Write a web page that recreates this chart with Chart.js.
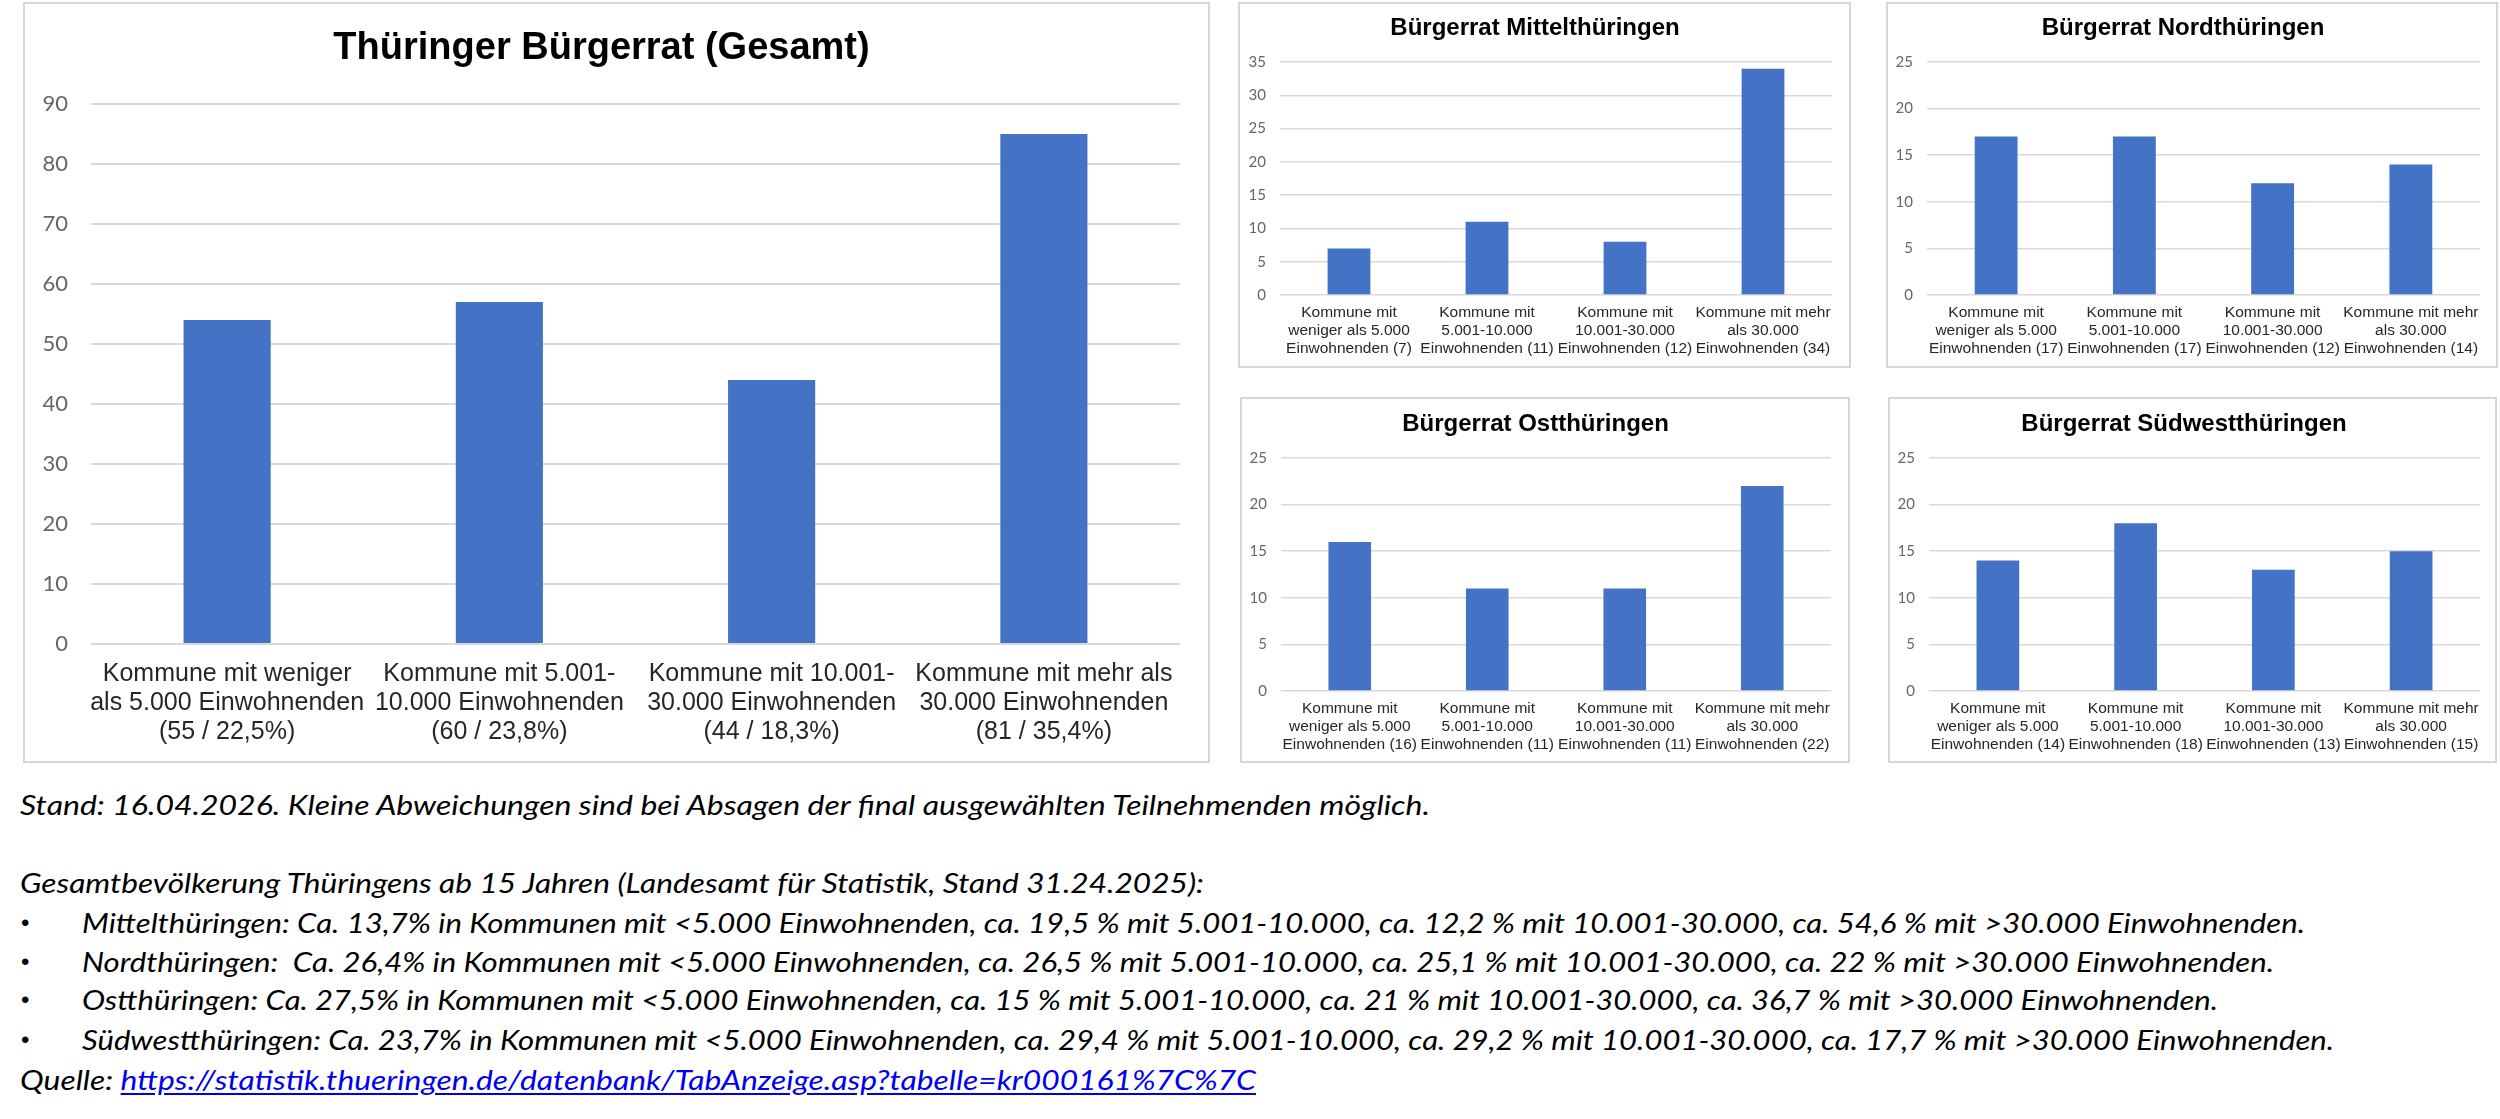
<!DOCTYPE html>
<html lang="de">
<head>
<meta charset="utf-8">
<script src="https://cdn.jsdelivr.net/npm/chart.js@4/dist/chart.umd.min.js"></script>
<style>
  html, body { margin: 0; padding: 0; background: #fff; }
  body { width: 2500px; height: 1119px; position: relative; overflow: hidden; }
  .box { position: absolute; box-sizing: border-box; border: 2px solid #d6d6d6; pointer-events: none; }
  .cv { position: absolute; }
  .line { position: absolute; white-space: pre; font-family: Lato, "Open Sans", sans-serif; font-style: italic;
          font-size: 27px; line-height: 36px; color: #000; transform-origin: 0 50%; }
  .bullet { position: absolute; font-family: "Liberation Sans", Arial, sans-serif; font-size: 24px; line-height: 36px; color: #000; }
  .link { color: #0000ee; text-decoration: underline; text-underline-offset: 3px; }
</style>
</head>
<body>

<canvas id="cGesamt" class="cv"></canvas>
<canvas id="cMittel" class="cv"></canvas>
<canvas id="cNord" class="cv"></canvas>
<canvas id="cOst" class="cv"></canvas>
<canvas id="cSued" class="cv"></canvas>

<div id="txt"></div>

<script>
// ---------------- DATA ----------------
const gesamtTitle = "Thüringer Bürgerrat (Gesamt)";
const gesamtLabels = [
  ["Kommune mit weniger", "als 5.000 Einwohnenden", "(55 / 22,5%)"],
  ["Kommune mit 5.001-", "10.000 Einwohnenden", "(60 / 23,8%)"],
  ["Kommune mit 10.001-", "30.000 Einwohnenden", "(44 / 18,3%)"],
  ["Kommune mit mehr als", "30.000 Einwohnenden", "(81 / 35,4%)"]
];
const gesamtValues = [54, 57, 44, 85];
const gesamtTicks = { max: 90, step: 10 };

const regionLabelBase = [
  ["Kommune mit", "weniger als 5.000", "Einwohnenden"],
  ["Kommune mit", "5.001-10.000", "Einwohnenden"],
  ["Kommune mit", "10.001-30.000", "Einwohnenden"],
  ["Kommune mit mehr", "als 30.000", "Einwohnenden"]
];

const mittelTitle = "Bürgerrat Mittelthüringen";
const mittelCounts = [7, 11, 12, 34];
const mittelValues = [7, 11, 8, 34];
const mittelTicks = { max: 35, step: 5 };

const nordTitle = "Bürgerrat Nordthüringen";
const nordCounts = [17, 17, 12, 14];
const nordValues = [17, 17, 12, 14];
const nordTicks = { max: 25, step: 5 };

const ostTitle = "Bürgerrat Ostthüringen";
const ostCounts = [16, 11, 11, 22];
const ostValues = [16, 11, 11, 22];
const ostTicks = { max: 25, step: 5 };

const suedTitle = "Bürgerrat Südwestthüringen";
const suedCounts = [14, 18, 13, 15];
const suedValues = [14, 18, 13, 15];
const suedTicks = { max: 25, step: 5 };

const noteStand = "Stand: 16.04.2026. Kleine Abweichungen sind bei Absagen der final ausgewählten Teilnehmenden möglich.";
const noteGesamt = "Gesamtbevölkerung Thüringens ab 15 Jahren (Landesamt für Statistik, Stand 31.24.2025):";
const noteBullets = [
  "Mittelthüringen: Ca. 13,7% in Kommunen mit <5.000 Einwohnenden, ca. 19,5 % mit 5.001-10.000, ca. 12,2 % mit 10.001-30.000, ca. 54,6 % mit >30.000 Einwohnenden.",
  "Nordthüringen:  Ca. 26,4% in Kommunen mit <5.000 Einwohnenden, ca. 26,5 % mit 5.001-10.000, ca. 25,1 % mit 10.001-30.000, ca. 22 % mit >30.000 Einwohnenden.",
  "Ostthüringen: Ca. 27,5% in Kommunen mit <5.000 Einwohnenden, ca. 15 % mit 5.001-10.000, ca. 21 % mit 10.001-30.000, ca. 36,7 % mit >30.000 Einwohnenden.",
  "Südwestthüringen: Ca. 23,7% in Kommunen mit <5.000 Einwohnenden, ca. 29,4 % mit 5.001-10.000, ca. 29,2 % mit 10.001-30.000, ca. 17,7 % mit >30.000 Einwohnenden."
];
const noteSourcePrefix = "Quelle: ";
const noteSourceUrl = "https://statistik.thueringen.de/datenbank/TabAnzeige.asp?tabelle=kr000161%7C%7C";

// ---------------- LAYOUT / DRAWING ----------------
function regionLabels(counts) {
  return regionLabelBase.map((l, i) => [l[0], l[1], l[2] + " (" + counts[i] + ")"]);
}

const BAR = "#4472C4";
const GRID = "#d9d9d9";

function makeBox(b) {
  const d = document.createElement("div");
  d.className = "box";
  d.style.left = b.x + "px"; d.style.top = b.y + "px";
  d.style.width = b.w + "px"; d.style.height = b.h + "px";
  document.body.appendChild(d);
}

function makeChart(id, lay, title, labels, values, ticks) {
  const cv = document.getElementById(id);
  cv.width = lay.w; cv.height = lay.h;
  cv.style.left = lay.x + "px"; cv.style.top = lay.y + "px";
  cv.style.width = lay.w + "px"; cv.style.height = lay.h + "px";
  makeBox(lay);
  const titleLH = lay.titleSize * 1.2;
  const tTop = lay.titleCenter - titleLH / 2;
  const tBottom = lay.plotTop - tTop - titleLH;
  new Chart(cv, {
    type: "bar",
    data: {
      labels: labels,
      datasets: [{
        data: values,
        backgroundColor: BAR,
        borderWidth: 0,
        barPercentage: lay.barPct,
        categoryPercentage: 1.0
      }]
    },
    options: {
      responsive: false,
      maintainAspectRatio: false,
      devicePixelRatio: 1,
      animation: false,
      layout: { padding: { left: 0, right: lay.padRight, top: 0, bottom: 0 } },
      plugins: {
        legend: { display: false },
        tooltip: { enabled: false },
        title: {
          display: true,
          text: title,
          color: "#000",
          font: { family: "'Liberation Sans', Arial, sans-serif", size: lay.titleSize, weight: "bold", lineHeight: 1.2 },
          padding: { top: tTop, bottom: tBottom }
        }
      },
      scales: {
        x: {
          grid: { display: false, drawTicks: false },
          border: { display: false },
          ticks: {
            color: "#262626",
            padding: lay.xPad,
            maxRotation: 0, minRotation: 0, autoSkip: false,
            font: { family: "'Liberation Sans', Arial, sans-serif", size: lay.xSize, lineHeight: lay.xLH }
          },
          afterFit: s => { s.height = lay.h - lay.plotBottom; }
        },
        y: {
          min: 0, max: ticks.max,
          grid: { color: GRID, lineWidth: lay.gridW, drawTicks: false },
          border: { display: false },
          ticks: {
            stepSize: ticks.step,
            color: "#666666",
            padding: lay.yPad,
            font: { family: "Lato, 'Open Sans', sans-serif", size: lay.ySize }
          },
          afterFit: s => { s.width = lay.plotLeft; }
        }
      }
    }
  });
}

const small = { titleSize: 24, xSize: 15.5, xLH: 1.16, xPad: 9, ySize: 15, yPad: 14, gridW: 1.5, barPct: 0.31 };

function build() {
  makeChart("cGesamt", { x: 23, y: 2, w: 1187, h: 761, plotLeft: 68, padRight: 30, plotTop: 102, plotBottom: 642,
    titleSize: 38, titleCenter: 47, xSize: 25, xLH: 1.16, xPad: 16, ySize: 22, yPad: 23, gridW: 2, barPct: 0.32 },
    gesamtTitle, gesamtLabels, gesamtValues, gesamtTicks);

  makeChart("cMittel", Object.assign({}, small, { x: 1238, y: 2, w: 613, h: 366, plotLeft: 42, padRight: 19,
    plotTop: 60, plotBottom: 293, titleCenter: 26 }), mittelTitle, regionLabels(mittelCounts), mittelValues, mittelTicks);

  makeChart("cNord", Object.assign({}, small, { x: 1886, y: 2, w: 612, h: 366, plotLeft: 41, padRight: 18,
    plotTop: 60, plotBottom: 293, titleCenter: 26 }), nordTitle, regionLabels(nordCounts), nordValues, nordTicks);

  makeChart("cOst", Object.assign({}, small, { x: 1240, y: 397, w: 610, h: 366, plotLeft: 41, padRight: 19,
    plotTop: 61, plotBottom: 294, titleCenter: 27 }), ostTitle, regionLabels(ostCounts), ostValues, ostTicks);

  makeChart("cSued", Object.assign({}, small, { x: 1888, y: 397, w: 609, h: 366, plotLeft: 41, padRight: 17,
    plotTop: 61, plotBottom: 294, titleCenter: 27 }), suedTitle, regionLabels(suedCounts), suedValues, suedTicks);

  // ---- notes below ----
  const txt = document.getElementById("txt");
  function addLine(html, x, cy, targetRight) {
    const d = document.createElement("div");
    d.className = "line";
    d.innerHTML = html;
    d.style.left = x + "px";
    d.style.top = (cy - 18) + "px";
    txt.appendChild(d);
    const w = d.getBoundingClientRect().width;
    const sx = (targetRight - x) / w;
    d.style.transform = "scaleX(" + sx + ")";
    return d;
  }
  function esc(s) { return s.replace(/&/g, "&amp;").replace(/</g, "&lt;").replace(/>/g, "&gt;"); }
  function addBullet(cy) {
    const b = document.createElement("div");
    b.className = "bullet";
    b.textContent = "•";
    b.style.left = "21px";
    b.style.top = (cy - 18) + "px";
    txt.appendChild(b);
  }
  addLine(esc(noteStand), 20, 805, 1430);
  addLine(esc(noteGesamt), 20, 883, 1204);
  const bulletY = [923, 962, 1000, 1040];
  const bulletRight = [2305, 2274, 2218, 2334];
  noteBullets.forEach((t, i) => { addBullet(bulletY[i]); addLine(esc(t), 82, bulletY[i], bulletRight[i]); });
  addLine(esc(noteSourcePrefix) + '<span class="link">' + esc(noteSourceUrl) + '</span>', 20, 1080, 1256);
}

if (document.fonts && document.fonts.load) {
  Promise.all([
    document.fonts.load("bold 38px 'Liberation Sans'"),
    document.fonts.load("25px 'Liberation Sans'"),
    document.fonts.load("22px Lato"),
    document.fonts.load("italic 27px Lato")
  ]).then(build, build);
} else {
  build();
}
</script>
</body>
</html>
